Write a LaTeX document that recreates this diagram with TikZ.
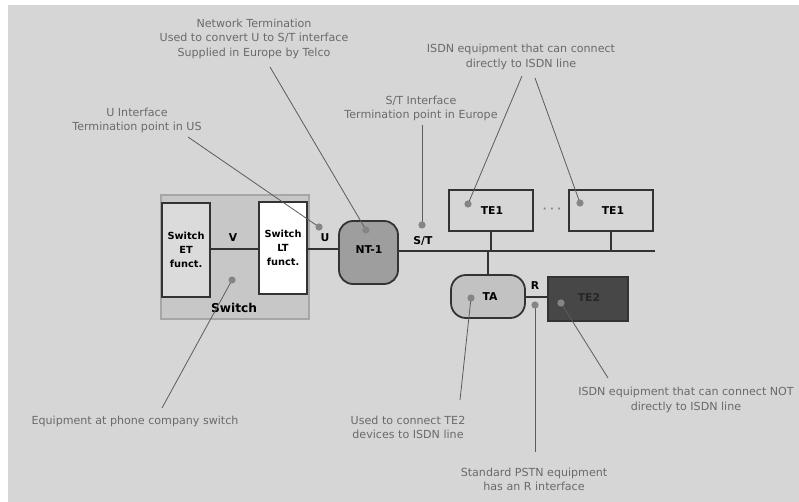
\documentclass[tikz,border=0pt]{standalone}
\usepackage{fontspec}
\setmainfont{DejaVu Sans}
\begin{document}
\begin{tikzpicture}[x=1pt,y=-1pt,
  ann/.style={text=annc,align=center,font=\fontsize{11.1}{14.5}\selectfont,inner sep=0pt},
  lead/.style={draw=leadc,line width=0.8pt},
  dotm/.style={fill=dotc,draw=none},
  box/.style={draw=boxc,line width=1.8pt,inner sep=0pt,outer sep=0pt},
  lbl/.style={font=\bfseries\fontsize{10.8}{13}\selectfont,text=black,inner sep=0pt},
  wire/.style={draw=boxc,line width=1.8pt}
]
\definecolor{bgc}{HTML}{D6D6D6}
\definecolor{annc}{HTML}{6A6A6A}
\definecolor{leadc}{HTML}{5C5C5C}
\definecolor{dotc}{HTML}{858585}
\definecolor{boxc}{HTML}{333333}
\useasboundingbox (0,0) rectangle (799,502);
\fill[white] (0,0) rectangle (799,502);
\fill[bgc] (8,5) rectangle (799,502);

% switch
\node[draw=gray!70,line width=1.2pt,fill=black!22,minimum width=148pt,minimum height=124pt,inner sep=0pt] (sw) at (235,257) {};
\node[lbl,font=\bfseries\fontsize{12.2}{14}\selectfont] (swl) at (234,308) {Switch};
\node[box,fill=black!14,minimum width=48pt,minimum height=94pt,align=center,font=\bfseries\fontsize{9.8}{14}\selectfont] (et) at (186,250) {Switch\\ET\\funct.};
\node[box,fill=white,minimum width=48pt,minimum height=92pt,align=center,font=\bfseries\fontsize{9.8}{14}\selectfont] (lt) at (283,248) {Switch\\LT\\funct.};
\node[box,fill=black!38,rounded corners=14pt,minimum width=59pt,minimum height=63pt] (nt) at (368.5,252.5) {};
\node[lbl] (ntl) at (369,250) {NT-1};

\node[box,fill=bgc,minimum width=84pt,minimum height=41pt] (te1a) at (491,210.5) {};
\node[box,fill=bgc,minimum width=84pt,minimum height=41pt] (te1b) at (611,210.5) {};
\node[lbl] (te1al) at (492,211) {TE1};
\node[lbl] (te1bl) at (613,211) {TE1};
\node[text=dotc,font=\bfseries\fontsize{10}{12}\selectfont,inner sep=0pt] (dots) at (552,210) {· · ·};

\node[box,fill=black!24,rounded corners=15pt,minimum width=74pt,minimum height=43pt] (ta) at (488,296.5) {};
\node[lbl] (tal) at (490,297) {TA};
\node[box,fill=black!72,minimum width=80pt,minimum height=44pt] (te2) at (588,299) {};
\node[lbl,text=black!85] (te2l) at (589,297) {TE2};

% wires
\coordinate (busend) at (655,251);
\draw[wire] (et.east |- 0,249) -- (lt.west |- 0,249);
\draw[wire] (lt.east |- 0,249) -- (nt.west |- 0,249);
\draw[wire] (nt.east |- busend) -- (busend);
\draw[wire] (te1a.south) -- (te1a.south |- busend);
\draw[wire] (te1b.south) -- (te1b.south |- busend);
\draw[wire] (ta.north) -- (ta.north |- busend);
\draw[wire] (ta.east |- 0,297) -- (te2.west |- 0,297);

\node[lbl] (vl) at (233,238) {V};
\node[lbl] (ul) at (325,238) {U};
\node[lbl] (stl) at (423,241) {S/T};
\node[lbl] (rl) at (535,286) {R};

% annotations
\node[ann] (antn) at (254,38.5) {Network Termination\\Used to convert U to S/T interface\\Supplied in Europe by Telco};
\node[ann] (anu) at (137,120.5) {U Interface\\Termination point in US};
\node[ann] (anst) at (421,108.5) {S/T Interface\\Termination point in Europe};
\node[ann] (anis) at (521,57) {ISDN equipment that can connect\\directly to ISDN line};
\node[ann] (aneq) at (135,421) {Equipment at phone company switch};
\node[ann] (anta) at (408,427.5) {Used to connect TE2\\devices to ISDN line};
\node[ann] (anps) at (534,479.5) {Standard PSTN equipment\\has an R interface};
\node[ann] (annot) at (686,400) {ISDN equipment that can connect NOT\\directly to ISDN line};

% leader ends
\coordinate (pnt) at (366,230);
\coordinate (pu) at (319,227);
\coordinate (pst) at (422,225);
\coordinate (pte1a) at (468,204);
\coordinate (pte1b) at (580,203);
\coordinate (psw) at (232,280);
\coordinate (pta) at (471,298);
\coordinate (pr) at (535,305);
\coordinate (pte2) at (561,303);

\coordinate (snt) at (270,67);
\coordinate (su) at (188,137);
\coordinate (sst) at (422,125);
\coordinate (sisa) at (522,76);
\coordinate (sisb) at (535,78);
\coordinate (seq) at (162,408);
\coordinate (sta) at (460,400);
\coordinate (sps) at (535,452);
\coordinate (snot) at (608,378);

\draw[lead] (snt) -- (pnt);
\draw[lead] (su) -- (pu);
\draw[lead] (sst) -- (pst);
\draw[lead] (sisa) -- (pte1a);
\draw[lead] (sisb) -- (pte1b);
\draw[lead] (seq) -- (psw);
\draw[lead] (sta) -- (pta);
\draw[lead] (sps) -- (pr);
\draw[lead] (snot) -- (pte2);

\foreach \p in {pnt,pu,pst,pte1a,pte1b,psw,pta,pr,pte2}
  \fill[dotm] (\p) circle (3.6pt);
\end{tikzpicture}
\end{document}
